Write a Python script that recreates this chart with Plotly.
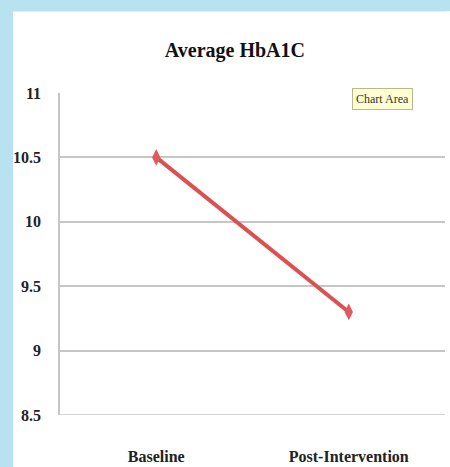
import plotly.graph_objects as go

categories = ["Baseline", "Post-Intervention"]
values = [10.5, 9.3]
y_ticks = [8.5, 9, 9.5, 10, 10.5, 11]
y_labels = ["8.5", "9", "9.5", "10", "10.5", "11"]

W, H = 450, 467
ml, mr, mt, mb = 60, 5, 93, 52
pw, ph = W - ml - mr, H - mt - mb

def px_x(x):
    return (x - ml) / pw

def px_y(y):
    return (H - mb - y) / ph

font_family = "Liberation Serif"
blue = "#B8E2F0"

fig = go.Figure()
fig.add_trace(go.Scatter(
    x=categories, y=values, mode="lines+markers",
    line=dict(color="#DC5052", width=4),
    marker=dict(symbol="diamond-tall", size=12, color="#E05A5C"),
    showlegend=False, hoverinfo="skip",
))

fig.update_layout(
    width=W, height=H,
    autosize=False,
    margin=dict(l=ml, r=mr, t=mt, b=mb, autoexpand=False),
    paper_bgcolor="white",
    plot_bgcolor="white",
    title=dict(text="Average HbA1C", x=0.522, xanchor="center", y=1 - 50 / H, yanchor="middle",
               font=dict(family=font_family, size=20, color="#111", weight="bold")),
    xaxis=dict(showgrid=False, zeroline=False, showline=False, ticks="",
               range=[-0.5, 1.5], automargin=False,
               tickfont=dict(family=font_family, size=16, color="#222", weight="bold"),
               ticklabelstandoff=30, fixedrange=True),
    yaxis=dict(range=[8.5, 11], tickvals=y_ticks, ticktext=y_labels,
               showgrid=True, gridcolor="#C6C6C6", gridwidth=1.5,
               showline=True, linecolor="#C6C6C6", linewidth=1.5, zeroline=False,
               ticks="", ticklabelstandoff=14, automargin=False,
               tickfont=dict(family=font_family, size=16, color="#222", weight="bold"),
               fixedrange=True),
    shapes=[
        dict(type="rect", xref="paper", yref="paper", layer="below",
             x0=px_x(-5), x1=px_x(13), y0=px_y(480), y1=px_y(-5),
             fillcolor=blue, line=dict(width=0)),
        dict(type="rect", xref="paper", yref="paper", layer="below",
             x0=px_x(-5), x1=px_x(460), y0=px_y(11.5), y1=px_y(-5),
             fillcolor=blue, line=dict(width=0)),
        dict(type="rect", xref="paper", yref="paper", layer="above",
             x0=px_x(446), x1=px_x(470), y0=px_y(480), y1=px_y(11.5),
             fillcolor="white", line=dict(width=0)),
        dict(type="line", xref="paper", yref="y", x0=0, x1=1, y0=8.5, y1=8.5,
             line=dict(color="#C6C6C6", width=1.5)),
    ],
    annotations=[
        dict(text="Chart Area", xref="paper", yref="paper", x=px_x(382), y=px_y(99),
             xanchor="center", yanchor="middle", showarrow=False,
             font=dict(family=font_family, size=12, color="#333"),
             bgcolor="#FFFFD2", bordercolor="#B8B890", borderwidth=1, borderpad=3),
    ],
)

fig.write_html("out.html", config={"displayModeBar": False},
               post_script="document.body.style.margin='0';document.body.style.overflow='hidden';"
                           "document.body.style.background='white';"
                           "document.documentElement.style.background='white';")
